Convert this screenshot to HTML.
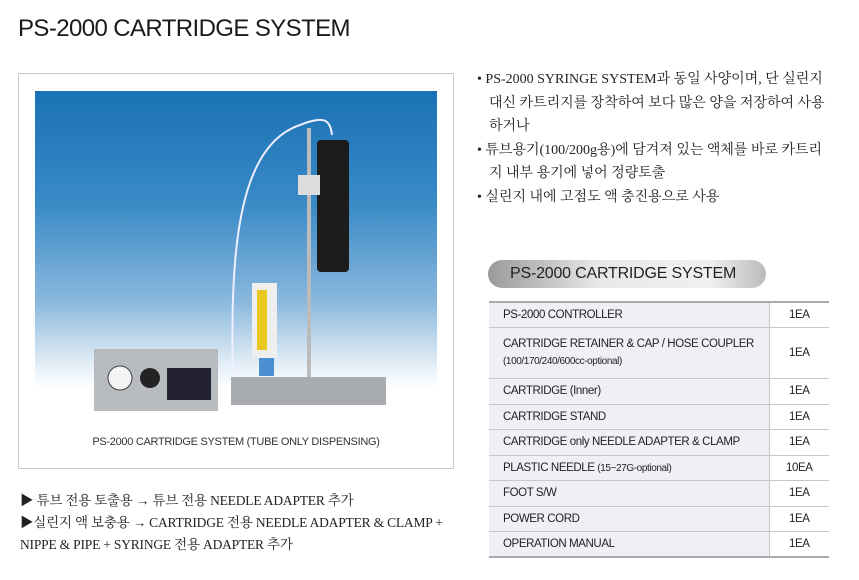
<!DOCTYPE html>
<html><head><meta charset="utf-8"><style>
*{margin:0;padding:0;box-sizing:border-box}
body{width:859px;height:580px;background:#fff;position:relative;overflow:hidden;font-family:"Liberation Sans","Noto Sans CJK KR",sans-serif;color:#222}
.a{position:absolute}
h1{position:absolute;left:18px;top:15px;font-size:24px;font-weight:normal;letter-spacing:-0.6px;color:#1a1a1a}
.box{left:18px;top:73px;width:436px;height:396px;border:1px solid #c8c8c8}
.photo{left:35px;top:91px;width:402px;height:324px;background:linear-gradient(#1a72b6 0%,#3a8ac6 35%,#8ab8de 65%,#e6f0f8 85%,#fff 92%)}
.cap{left:18px;top:436px;width:436px;text-align:center;font-size:11px;color:#333;letter-spacing:-0.3px}
.kr{font-family:"Liberation Serif","Noto Serif CJK SC","Noto Sans CJK KR",serif;font-size:14px;color:#222;line-height:23.5px}
.pill{left:488px;top:260px;width:278px;height:28px;border-radius:14px;background:linear-gradient(90deg,#9a9a9a,#e8e8e8 40%,#f0f0f0 80%,#bbb);font-size:16px;padding-left:22px;line-height:28px;color:#222;letter-spacing:-0.2px}
table{position:absolute;left:489px;top:301px;width:340px;border-collapse:collapse;font-size:11.5px;letter-spacing:-0.4px;border-top:2px solid #aaa;border-bottom:2px solid #aaa}
td{border-bottom:1px solid #c8c8c8;height:25.5px;padding-left:14px;white-space:nowrap}
td.l{background:#eef0f5;width:280px;border-right:1px solid #c8c8c8}
td.r{text-align:center;padding-left:0}
</style></head><body>
<h1>PS-2000 CARTRIDGE SYSTEM</h1>
<div class="a box"></div>
<div class="a photo">
<svg width="402" height="324" viewBox="35 91 402 324">
<path d="M233 404 C232 300 225 150 300 125 C325 115 330 120 332 135" fill="none" stroke="#eef" stroke-width="2"/>
<rect x="307" y="128" width="4" height="250" fill="#bbb"/>
<rect x="231" y="377" width="155" height="28" fill="#a8acb0"/>
<rect x="317" y="140" width="32" height="132" rx="4" fill="#1c1c1c"/>
<rect x="298" y="175" width="22" height="20" fill="#ddd"/>
<rect x="252" y="283" width="25" height="75" fill="#eee"/>
<rect x="257" y="290" width="10" height="60" fill="#e8c820"/>
<rect x="259" y="358" width="15" height="18" fill="#4a90d0"/>
<rect x="94" y="349" width="124" height="62" fill="#b8bcc0"/>
<circle cx="120" cy="378" r="12" fill="#f4f4f4" stroke="#444"/>
<circle cx="150" cy="378" r="10" fill="#222"/>
<rect x="167" y="368" width="44" height="32" fill="#223"/>
</svg></div>
<div class="a cap">PS-2000 CARTRIDGE SYSTEM (TUBE ONLY DISPENSING)</div>
<div class="a kr" style="left:20px;top:490px;line-height:22px;font-size:13.5px;letter-spacing:-0.2px">▶ 튜브 전용 토출용 → 튜브 전용 NEEDLE ADAPTER 추가<br>▶실린지 액 보충용 → CARTRIDGE 전용 NEEDLE ADAPTER &amp; CLAMP +<br>NIPPE &amp; PIPE + SYRINGE 전용 ADAPTER 추가</div>
<div class="a kr" style="left:477px;top:68px;width:370px">
<div>• PS-2000 SYRINGE SYSTEM과 동일 사양이며, 단 실린지</div>
<div style="padding-left:12px">대신 카트리지를 장착하여 보다 많은 양을 저장하여 사용</div>
<div style="padding-left:12px">하거나</div>
<div>• 튜브용기(100/200g용)에 담겨져 있는 액체를 바로 카트리</div>
<div style="padding-left:12px">지 내부 용기에 넣어 정량토출</div>
<div>• 실린지 내에 고점도 액 충진용으로 사용</div>
</div>
<div class="a pill">PS-2000 CARTRIDGE SYSTEM</div>
<table>
<tr><td class="l">PS-2000 CONTROLLER</td><td class="r">1EA</td></tr>
<tr><td class="l" style="height:51px;line-height:17px">CARTRIDGE RETAINER &amp; CAP / HOSE COUPLER<br><span style="font-size:10px">(100/170/240/600cc-optional)</span></td><td class="r">1EA</td></tr>
<tr><td class="l">CARTRIDGE (Inner)</td><td class="r">1EA</td></tr>
<tr><td class="l">CARTRIDGE STAND</td><td class="r">1EA</td></tr>
<tr><td class="l">CARTRIDGE only NEEDLE ADAPTER &amp; CLAMP</td><td class="r">1EA</td></tr>
<tr><td class="l">PLASTIC NEEDLE <span style="font-size:10px">(15~27G-optional)</span></td><td class="r">10EA</td></tr>
<tr><td class="l">FOOT S/W</td><td class="r">1EA</td></tr>
<tr><td class="l">POWER CORD</td><td class="r">1EA</td></tr>
<tr><td class="l">OPERATION MANUAL</td><td class="r">1EA</td></tr>
</table>
</body></html>
